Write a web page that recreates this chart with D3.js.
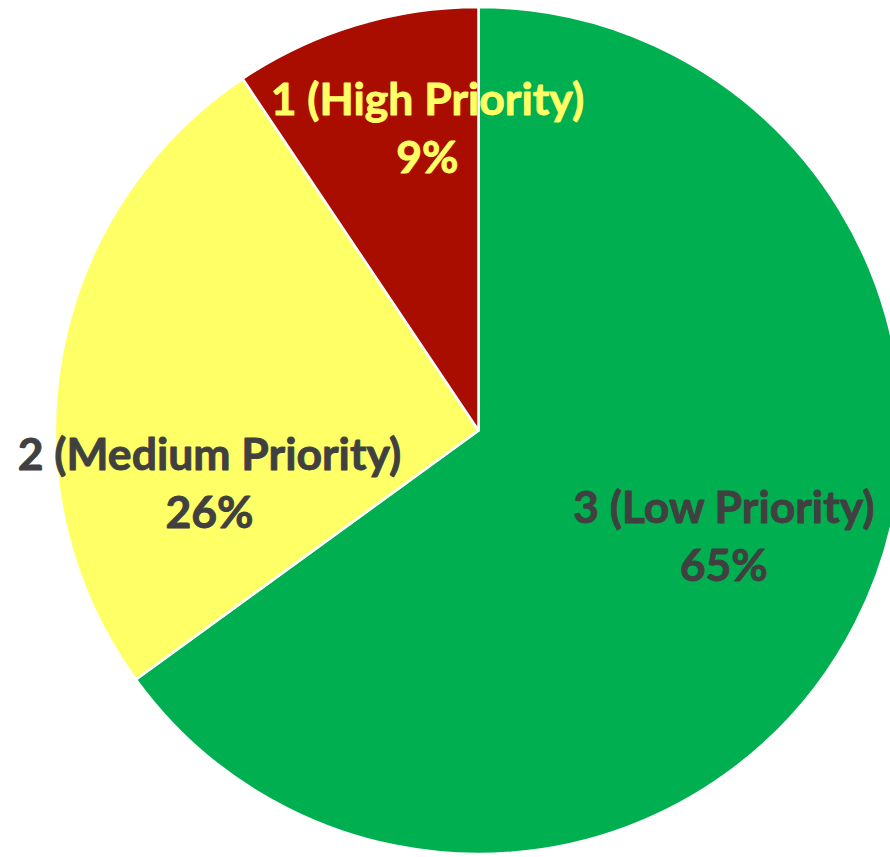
<!DOCTYPE html>
<html>
<head>
<meta charset="utf-8">
<script src="https://cdn.jsdelivr.net/npm/d3@7"></script>
<style>
  body { margin: 0; background: #fff; }
  svg { display: block; }
</style>
</head>
<body>
<div id="chart"></div>
<script>
// data (clockwise from 12 o'clock)
const categories = ["3 (Low Priority)", "2 (Medium Priority)", "1 (High Priority)"];
const shares = [65.0, 25.6, 9.4];
const percentLabels = ["65%", "26%", "9%"];

// slice colours and label colours
const sliceColors = ["#00B050", "#FFFF66", "#A80D00"];
const labelColors = ["#404040", "#404040", "#FFFF66"];

// excel-like "best fit" nudges from the centroid, per slice
const labelNudge = [[0, 0], [2, 120], [29, -20]];

const width = 890,
  height = 857;
const cx = 478.5,
  cy = 430.5,
  radius = 423.5;

const svg = d3
  .select("#chart")
  .append("svg")
  .attr("width", width)
  .attr("height", height);

const g = svg.append("g").attr("transform", `translate(${cx},${cy})`);

const pie = d3
  .pie()
  .sort(null)
  .value((d) => d.value);

const slices = pie(
  categories.map((c, i) => ({ name: c, value: shares[i], pct: percentLabels[i], i: i }))
);

const arc = d3.arc().innerRadius(0).outerRadius(radius);
const labelArc = d3
  .arc()
  .innerRadius(radius * 0.65)
  .outerRadius(radius * 0.65);

//slices
g.selectAll("path.slice")
  .data(slices)
  .join("path")
  .attr("class", "slice")
  .attr("d", arc)
  .attr("fill", (d) => sliceColors[d.data.i])
  .attr("stroke", "#fff")
  .attr("stroke-width", 2.5)
  .attr("stroke-linejoin", "round");

//labels (thin stroke in the same colour to get calibri-bold weight)
const labels = g
  .selectAll("text.lbl")
  .data(slices)
  .join("text")
  .attr("class", "lbl")
  .attr("text-anchor", "middle")
  .attr("font-family", "Lato, 'Open Sans', sans-serif")
  .attr("font-weight", "bold")
  .attr("font-size", 44.5)
  .attr("fill", (d) => labelColors[d.data.i])
  .attr("stroke", (d) => labelColors[d.data.i])
  .attr("stroke-width", 0.9)
  .attr("stroke-linejoin", "round")
  .attr("transform", (d) => {
    const c = labelArc.centroid(d);
    const n = labelNudge[d.data.i];
    return `translate(${c[0] + n[0]},${c[1] + n[1]})`;
  });

labels
  .append("tspan")
  .attr("x", 0)
  .attr("y", -32)
  .text((d) => d.data.name);

labels
  .append("tspan")
  .attr("x", 0)
  .attr("y", 26)
  .text((d) => d.data.pct);
</script>
</body>
</html>
